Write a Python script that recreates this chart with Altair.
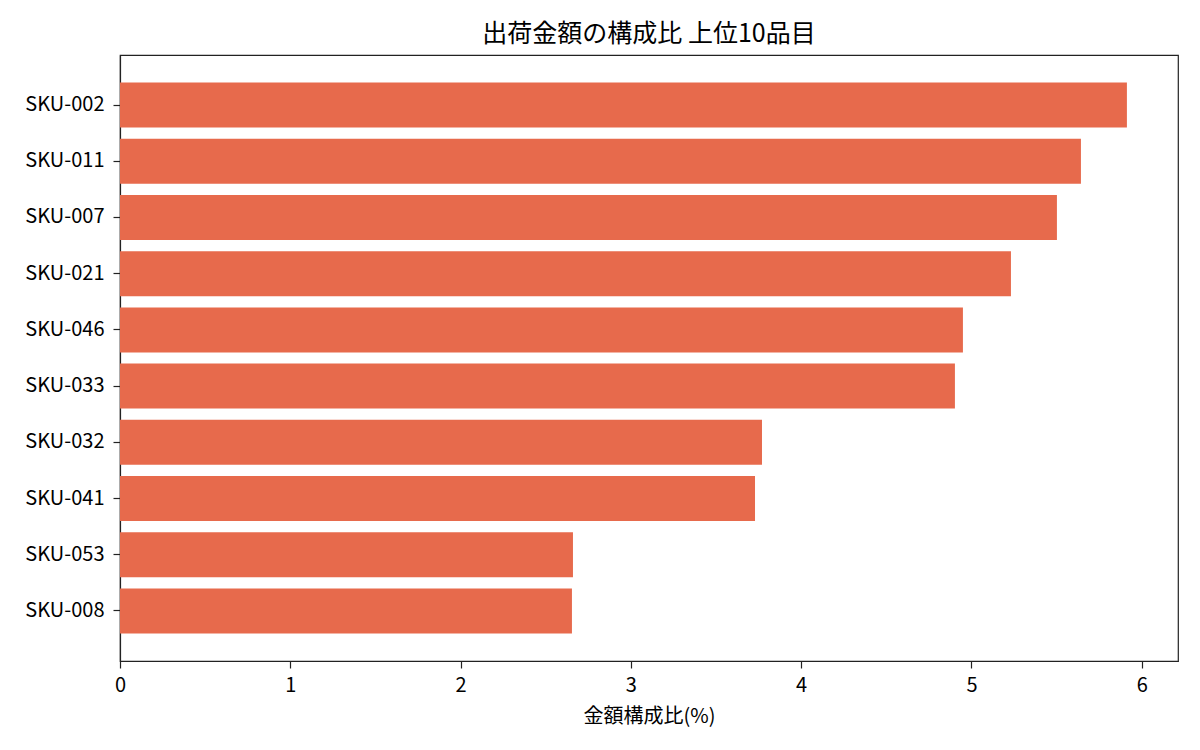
import altair as alt
import pandas as pd

skus = ["SKU-002", "SKU-011", "SKU-007", "SKU-021", "SKU-046",
        "SKU-033", "SKU-032", "SKU-041", "SKU-053", "SKU-008"]
shares = [5.913, 5.643, 5.502, 5.232, 4.950, 4.903, 3.770, 3.729, 2.660, 2.654]

df = pd.DataFrame({"sku": skus, "share": shares})

FONT = "Noto Sans CJK JP"

chart = alt.Chart(df).mark_bar(color="#E76A4C").encode(
    x=alt.X("share:Q",
            scale=alt.Scale(domain=[0, 6.213], nice=False, zero=True),
            axis=alt.Axis(title="金額構成比(%)", values=[0, 1, 2, 3, 4, 5, 6],
                          format="d", grid=False, tickSize=7, labelPadding=7,
                          titlePadding=11, labelFontSize=20, titleFontSize=20,
                          labelFont=FONT, titleFont=FONT, labelColor="#000",
                          titleColor="#000", titleFontWeight="normal",
                          domainColor="#222", tickColor="#222", labelFlush=False,
                          domainWidth=1.2, tickWidth=1.2)),
    y=alt.Y("sku:N", sort=skus,
            scale=alt.Scale(paddingInner=0.2, paddingOuter=0.49),
            axis=alt.Axis(title=None, tickSize=7, labelPadding=9, labelFontSize=20,
                          labelFont=FONT, labelColor="#000", domainColor="#222",
                          tickColor="#222", domainWidth=1.2, tickWidth=1.2)),
).properties(
    width=1058,
    height=606,
    title=alt.TitleParams("出荷金額の構成比 上位10品目", font=FONT, fontSize=25,
                          fontWeight="normal", color="#000", anchor="middle",
                          offset=8),
    autosize=alt.AutoSizeParams(type="none"),
    padding={"left": 120, "top": 55, "right": 22, "bottom": 89},
).configure_view(
    stroke="#222", strokeWidth=1.2
)

chart.save("out.html", embed_options={"renderer": "svg", "actions": False})
